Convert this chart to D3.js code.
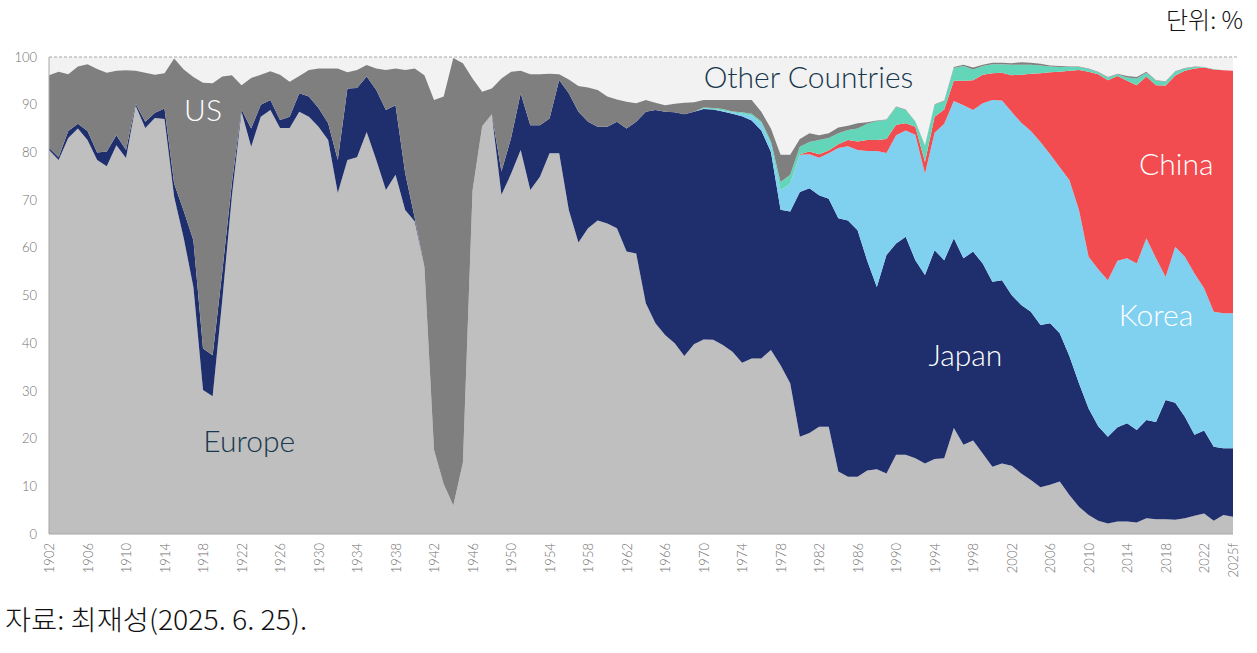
<!DOCTYPE html>
<html>
<head>
<meta charset="utf-8">
<script src="https://cdn.jsdelivr.net/npm/d3@7"></script>
<style>
  body { margin: 0; background: #fff; }
  .tick text { font-family: Lato, "Open Sans", sans-serif; fill: #707070; font-weight: 300; }
  .lab { font-family: Lato, "Open Sans", sans-serif; font-size: 30px; font-weight: 300; }
  .kr { font-family: "Noto Sans CJK KR", sans-serif; font-weight: 300; }
</style>
</head>
<body>
<div id="chart"></div>
<script>
// Share of world shipbuilding by country, 1902-2025 (%, stacked)
const firstYear = 1902;
const lastYear = 2025;

const europe = [
  80.5, 78.4, 83, 85, 82.6, 78.4, 77.1, 81.5, 78.8, 89.8,
  85.1, 87.2, 87, 70.7, 62, 51.8, 30.2, 28.9, 49, 70.8,
  88.5, 81.2, 87.5, 88.9, 85.1, 85.1, 88.5, 87.5, 85.4, 82.6,
  71.5, 78.4, 79, 84.3, 78.4, 72.1, 75.3, 67.9, 65.5, 56,
  17.6, 10.5, 6, 15, 72, 85.5, 88, 71.1, 75.5, 80.5,
  72.1, 74.9, 79.8, 79.8, 67.9, 61.1, 64.1, 65.7, 65.1, 64.1,
  59.2, 58.8, 48.4, 44.2, 41.7, 40, 37.3, 39.8, 40.8, 40.7,
  39.6, 38.2, 35.9, 36.8, 36.8, 38.6, 35.4, 31.6, 20.4, 21.2,
  22.5, 22.5, 13.1, 12, 12, 13.3, 13.6, 12.7, 16.6, 16.6,
  15.9, 14.8, 15.7, 15.9, 22.2, 18.7, 19.6, 16.9, 14.1, 14.8,
  14.3, 12.7, 11.3, 9.8, 10.3, 11, 8.2, 5.7, 4, 2.8,
  2.2, 2.6, 2.6, 2.4, 3.3, 3.1, 3.1, 3, 3.3, 3.8,
  4.3, 2.8, 4, 3.6
];

const japan = [
  0.5, 0.6, 1.5, 1, 1.9, 1.6, 3.1, 2.1, 1.7, 0.4,
  1.3, 1.1, 2.2, 2.8, 5.7, 9.8, 8.7, 8.6, 6, 2.8,
  0.5, 3.8, 2.5, 2.1, 1.7, 2.4, 3.9, 4.2, 3.9, 3.5,
  6.9, 15, 14.5, 11.6, 14.7, 16.8, 14.6, 7.8, 0.7, 0,
  0, 0, 0, 0, 0, 0, 0, 4.9, 7.5, 11.9,
  13.6, 10.8, 7.3, 15.4, 24.5, 27.4, 22.3, 19.7, 20.3, 22.3,
  25.8, 27.6, 40.1, 44.7, 46.8, 48.4, 50.7, 48.7, 48.3, 48.3,
  49, 49.9, 51.7, 49.9, 47.8, 41.5, 32.6, 36, 51.3, 51.3,
  48.5, 47.8, 53.1, 53.7, 51.7, 44, 38.2, 45.8, 44.3, 45.7,
  41.5, 39.5, 43.8, 41.5, 39.8, 39.1, 39.6, 39.8, 38.8, 38.4,
  35.8, 35.3, 35.3, 34, 33.9, 31.1, 29.1, 25.9, 22.3, 19.8,
  18.2, 19.8, 20.6, 19.4, 20.6, 20.4, 25, 24.5, 21.3, 17,
  17.4, 15.5, 14, 14.4
];

// Korea and the small green series start in 1970, China in 1980
const koreaStart = 1970;
const korea = [
  0.1, 0.1, 0.2, 0.3, 0.5, 1, 1.5, 1.5, 4, 5.9,
  7.8, 7.1, 7.9, 9.5, 14.7, 15.6, 16.8, 23, 28.5, 21.4,
  22.7, 22.3, 26.3, 21.3, 24.6, 28.6, 28.8, 32.1, 29.7, 33.6,
  38.1, 37.7, 38.4, 38.2, 37.9, 38.4, 35.4, 34.8, 36.9, 36.3,
  31.8, 32.9, 32.8, 34.9, 34.6, 34.9, 38.1, 34.3, 25.8, 32.7,
  33.5, 33.8, 29.8, 28.3, 28.3, 28.3
];

const chinaStart = 1980;
const china = [
  0.1, 0.6, 0.7, 0.6, 0.8, 1.3, 1.8, 2.3, 2.3, 2.9,
  2.2, 1.5, 1.7, 2.4, 3.4, 3, 4.2, 5.1, 6.2, 6,
  5.6, 5.8, 7.7, 10.1, 12, 14.4, 17.2, 20, 22.9, 29.4,
  38.8, 40.9, 41.9, 38.7, 37.2, 37.4, 33.9, 36.3, 40.1, 35.9,
  39, 43, 46.3, 50.8, 50.9, 50.8
];

const minorStart = 1970;
const minor = [
  0.2, 0.2, 0.3, 0.2, 0.3, 0.4, 0.4, 0.7, 1.8, 1.8,
  1.6, 2, 3, 2.6, 2.3, 2.1, 2.7, 3.4, 4, 4,
  3.7, 2.8, 1, 3.4, 2.5, 1.8, 2.7, 3.1, 2.3, 1.8,
  1.9, 1.8, 2.2, 2.1, 1.9, 1.6, 1.2, 1, 0.8, 0.6,
  0.6, 0.4, 0.6, 0.4, 0.7, 1.4, 0.8, 0.9, 0.8, 0.8,
  0.5, 0.3, 0.1, 0.1, 0, 0
];

const us = [
  15.2, 17.9, 11.9, 12, 14, 17.5, 16.5, 13.5, 16.7, 6.9,
  10.3, 8, 7.4, 26.2, 29.7, 34.2, 55.7, 57, 40.9, 22.6,
  5.1, 10.6, 6.3, 6, 9.5, 7.3, 3.6, 5.6, 8.3, 11.5,
  19.2, 3.4, 3.8, 2.4, 4.5, 8.4, 7.7, 21.6, 31.4, 40.2,
  73.4, 81.2, 93.8, 83.7, 23.5, 7.2, 5.4, 19.5, 13.9, 4.7,
  10.7, 10.7, 9.4, 1.2, 2.9, 5.4, 7.2, 7.7, 6.3, 4.7,
  5.6, 3.9, 2.5, 1.5, 1.4, 1.8, 2.4, 2, 1.6, 1.7,
  1.9, 2.4, 2.6, 2.9, 2, 2.7, 5.7, 4.2, 1.6, 1.8,
  1, 1, 1.2, 0.9, 1.1, 0.3, 0.1, 0.1, 0.1, 0.1,
  0.1, 0.1, 0.1, 0.1, 0.2, 0.3, 0.4, 0.3, 0.3, 0.3,
  0.3, 0.5, 0.4, 0.4, 0.2, 0.2, 0.1, 0.1, 0.1, 0.1,
  0.1, 0.1, 0.3, 0.3, 0.2, 0.1, 0.1, 0.1, 0.1, 0.1,
  0, 0, 0, 0
];

const yTicks = [0, 10, 20, 30, 40, 50, 60, 70, 80, 90, 100];
const xTickYears = [1902, 1906, 1910, 1914, 1918, 1922, 1926, 1930, 1934, 1938,
  1942, 1946, 1950, 1954, 1958, 1962, 1966, 1970, 1974, 1978, 1982, 1986,
  1990, 1994, 1998, 2002, 2006, 2010, 2014, 2018, 2022, 2025];
const xTickLabels = ["1902", "1906", "1910", "1914", "1918", "1922", "1926", "1930",
  "1934", "1938", "1942", "1946", "1950", "1954", "1958", "1962", "1966", "1970",
  "1974", "1978", "1982", "1986", "1990", "1994", "1998", "2002", "2006", "2010",
  "2014", "2018", "2022", "2025f"];

const width = 1257;
const height = 653;
const margin = { top: 57, right: 24, bottom: 119, left: 49 };

// build rows for d3.stack
const years = d3.range(firstYear, lastYear + 1);
const rows = years.map((yr, i) => ({
  year: yr,
  europe: europe[i],
  japan: japan[i],
  korea: yr >= koreaStart ? korea[yr - koreaStart] : 0,
  china: yr >= chinaStart ? china[yr - chinaStart] : 0,
  minor: yr >= minorStart ? minor[yr - minorStart] : 0,
  us: us[i]
}));

const keys = ["europe", "japan", "korea", "china", "minor", "us"];
const colors = {
  europe: "#bfbfbf",
  japan: "#1f2f6e",
  korea: "#80d0f0",
  china: "#f24b50",
  minor: "#63d6b9",
  us: "#7f7f7f"
};

const svg = d3.select("#chart")
  .append("svg")
  .attr("width", width)
  .attr("height", height);

const x = d3.scaleLinear()
  .domain([firstYear, lastYear])
  .range([margin.left, width - margin.right]);

const y = d3.scaleLinear()
  .domain([0, 100])
  .range([height - margin.bottom, margin.top]);

const series = d3.stack().keys(keys)(rows);

// "Other Countries": everything between the stack top and 100
const topSeries = series[series.length - 1];
svg.append("path")
  .datum(topSeries)
  .attr("fill", "#f2f2f2")
  .attr("d", d3.area()
    .x(d => x(d.data.year))
    .y0(d => y(d[1]))
    .y1(y(100)));

svg.selectAll("path.layer")
  .data(series)
  .enter()
  .append("path")
  .attr("class", "layer")
  .attr("fill", d => colors[d.key])
  .attr("d", d3.area()
    .x(d => x(d.data.year))
    .y0(d => y(d[0]))
    .y1(d => y(d[1])));

// dashed line at 100
svg.append("line")
  .attr("x1", x(firstYear))
  .attr("x2", x(lastYear) + 4)
  .attr("y1", y(100))
  .attr("y2", y(100))
  .attr("stroke", "#a6a6a6")
  .attr("stroke-width", 1)
  .attr("stroke-dasharray", "3,2");

// plot frame left and bottom
svg.append("line")
  .attr("x1", x(firstYear)).attr("x2", x(firstYear))
  .attr("y1", y(100)).attr("y2", y(0))
  .attr("stroke", "#a6a6a6");
svg.append("line")
  .attr("x1", x(firstYear)).attr("x2", x(lastYear))
  .attr("y1", y(0)).attr("y2", y(0))
  .attr("stroke", "#a6a6a6");

// y axis
const yAxis = svg.append("g")
  .attr("transform", `translate(${margin.left},0)`)
  .call(d3.axisLeft(y).tickValues(yTicks).tickSize(0).tickPadding(12));
yAxis.select(".domain").remove();
yAxis.selectAll("text").style("font-size", "13px");

// x axis, rotated labels
const xAxis = svg.append("g")
  .attr("transform", `translate(0,${y(0)})`)
  .call(d3.axisBottom(x)
    .tickValues(xTickYears)
    .tickSize(0)
    .tickFormat((d, i) => xTickLabels[i]));
xAxis.select(".domain").remove();
xAxis.selectAll("text")
  .attr("transform", "rotate(-90)")
  .attr("x", -9)
  .attr("y", 0)
  .attr("dy", "0.35em")
  .style("text-anchor", "end")
  .style("font-size", "13px");

// series labels
const labels = [
  { text: "US", year: 1918.0, value: 86.5, color: "#ffffff" },
  { text: "Europe", year: 1922.8, value: 17.1, color: "#17384d" },
  { text: "Other Countries", year: 1980.9, value: 93.5, color: "#17384d" },
  { text: "Japan", year: 1997.2, value: 35.2, color: "#ffffff" },
  { text: "China", year: 2019.1, value: 75.3, color: "#ffffff" },
  { text: "Korea", year: 2017.0, value: 43.6, color: "#ffffff" }
];
svg.selectAll("text.lab")
  .data(labels)
  .enter()
  .append("text")
  .attr("class", "lab")
  .attr("x", d => x(d.year))
  .attr("y", d => y(d.value))
  .attr("text-anchor", "middle")
  .attr("fill", d => d.color)
  .text(d => d.text);

// unit and source
svg.append("text")
  .attr("class", "kr")
  .attr("x", 1243)
  .attr("y", 29)
  .attr("text-anchor", "end")
  .style("font-size", "24px")
  .attr("fill", "#111")
  .text("단위: %");

svg.append("text")
  .attr("class", "kr")
  .attr("x", 5)
  .attr("y", 630)
  .attr("textLength", 302)
  .attr("lengthAdjust", "spacingAndGlyphs")
  .style("font-size", "27px")
  .attr("fill", "#111")
  .text("자료: 최재성(2025. 6. 25).");
</script>
</body>
</html>
